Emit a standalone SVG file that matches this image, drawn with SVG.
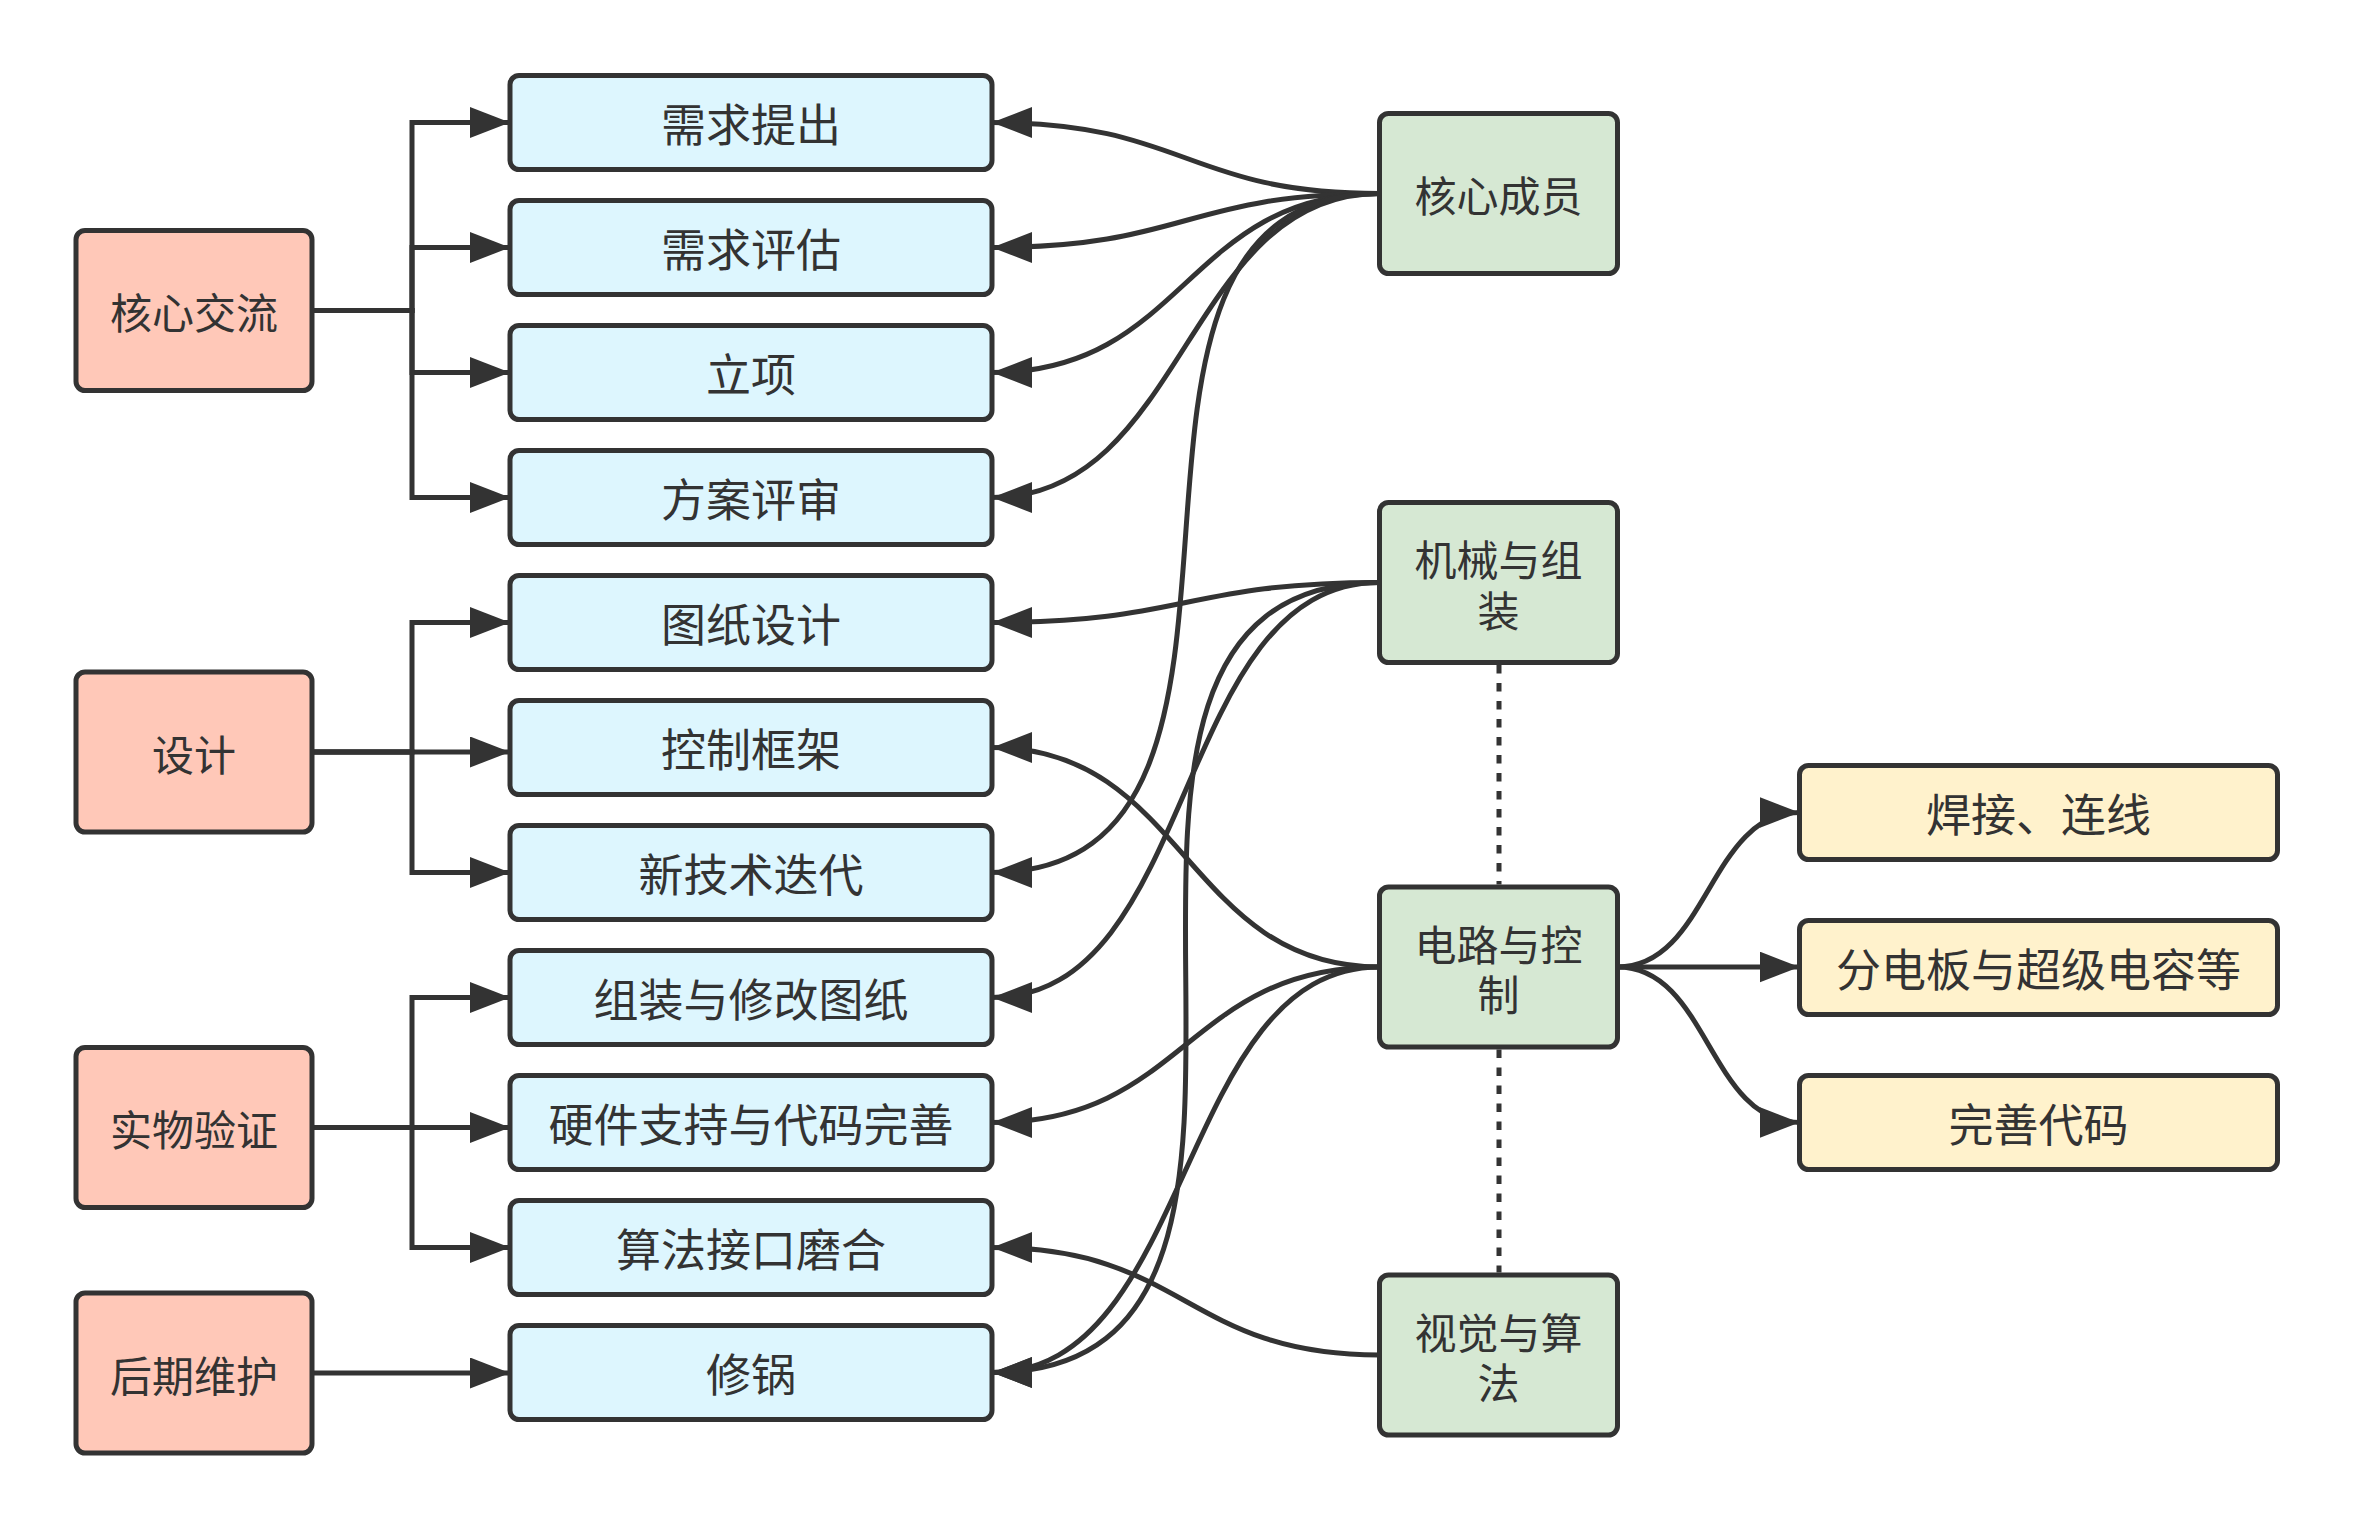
<svg xmlns="http://www.w3.org/2000/svg" width="2355" height="1529" viewBox="0 0 2355 1529">
  <style>
    .box { stroke: #333333; stroke-width: 5; }
    .red { fill: #ffc8b8; }
    .blue { fill: #ddf6fe; }
    .green { fill: #d6e8d3; }
    .yellow { fill: #fff2cc; }
    .label { font-family: "Noto Sans CJK SC", "Noto Sans", sans-serif; font-size: 45px; fill: #333333; text-anchor: middle; dominant-baseline: central; }
    .small { font-size: 42px; }
    .link { fill: none; stroke: #333333; stroke-width: 5; stroke-linejoin: miter; marker-end: url(#arrow); }
    .dash { fill: none; stroke: #333333; stroke-width: 5; stroke-dasharray: 8.5 9.5; }
  </style>
  <defs>
    <marker id="arrow" markerUnits="userSpaceOnUse" markerWidth="40" markerHeight="31" viewBox="0 0 40 31" refX="40" refY="15.5" orient="auto">
      <path d="M0,0 L40,15.5 L0,31 Z" fill="#333333"/>
    </marker>
  </defs>
  <rect width="2355" height="1529" fill="#ffffff"/>

  <!-- connectors -->
  <g id="connectors">
    <!-- 核心交流 elbows -->
    <path class="link" d="M314,310.5 H412 V122.5 H510"/>
    <path class="link" d="M314,310.5 H412 V247.5 H510"/>
    <path class="link" d="M314,310.5 H412 V372.5 H510"/>
    <path class="link" d="M314,310.5 H412 V497.5 H510"/>
    <!-- 设计 elbows -->
    <path class="link" d="M314,752 H412 V622.5 H510"/>
    <path class="link" d="M314,752 H510"/>
    <path class="link" d="M314,752 H412 V872.5 H510"/>
    <!-- 实物验证 elbows -->
    <path class="link" d="M314,1127.5 H412 V997.5 H510"/>
    <path class="link" d="M314,1127.5 H510"/>
    <path class="link" d="M314,1127.5 H412 V1247.5 H510"/>
    <!-- 后期维护 -->
    <path class="link" d="M314,1373 H510"/>

    <!-- 核心成员 curves -->
    <path class="link" d="M1379.5,193.5 C1185.75,193.5 1185.75,122.5 992,122.5"/>
    <path class="link" d="M1379.5,193.5 C1185.75,193.5 1185.75,247.5 992,247.5"/>
    <path class="link" d="M1379.5,193.5 C1185.75,193.5 1185.75,372.5 992,372.5"/>
    <path class="link" d="M1379.5,193.5 C1185.75,193.5 1185.75,497.5 992,497.5"/>
    <path class="link" d="M1379.5,193.5 C1040,193.5 1331.5,872.5 992,872.5"/>
    <!-- 机械与组装 curves -->
    <path class="link" d="M1379.5,582.5 C1185.75,582.5 1185.75,622.5 992,622.5"/>
    <path class="link" d="M1379.5,582.5 C1172,582.5 1199.5,997.5 992,997.5"/>
    <path class="link" d="M1379.5,582.5 C984.5,582.5 1387,1372.5 992,1372.5"/>
    <!-- 电路与控制 curves -->
    <path class="link" d="M1379.5,967 C1185.75,967 1185.75,747.5 992,747.5"/>
    <path class="link" d="M1379.5,967 C1185.75,967 1185.75,1122.5 992,1122.5"/>
    <path class="link" d="M1379.5,967 C1176.75,967 1194.75,1372.5 992,1372.5"/>
    <!-- 视觉与算法 curve -->
    <path class="link" d="M1379.5,1355 C1185.75,1355 1185.75,1247.5 992,1247.5"/>
    <!-- 电路与控制 to the right -->
    <path class="link" d="M1617.5,967 C1708.5,967 1708.5,812.5 1799.5,812.5"/>
    <path class="link" d="M1617.5,967 H1799.5"/>
    <path class="link" d="M1617.5,967 C1708.5,967 1708.5,1122.5 1799.5,1122.5"/>
    <!-- dotted links between the teams -->
    <path class="dash" d="M1499,665 V884.5"/>
    <path class="dash" d="M1499,1049.5 V1272.5"/>
  </g>

  <!-- stage nodes -->
  <g id="node-hexin-jiaoliu"><rect class="box red" x="76" y="230.5" width="236" height="160" rx="9"/><text class="label small" x="194" y="310.5">核心交流</text></g>
  <g id="node-sheji"><rect class="box red" x="76" y="672" width="236" height="160" rx="9"/><text class="label small" x="194" y="752">设计</text></g>
  <g id="node-shiwu-yanzheng"><rect class="box red" x="76" y="1047.5" width="236" height="160" rx="9"/><text class="label small" x="194" y="1127.5">实物验证</text></g>
  <g id="node-houqi-weihu"><rect class="box red" x="76" y="1293" width="236" height="160" rx="9"/><text class="label small" x="194" y="1373">后期维护</text></g>

  <!-- task nodes -->
  <g id="node-xuqiu-tichu"><rect class="box blue" x="510" y="75.5" width="482" height="94" rx="9"/><text class="label" x="751" y="122.5">需求提出</text></g>
  <g id="node-xuqiu-pinggu"><rect class="box blue" x="510" y="200.5" width="482" height="94" rx="9"/><text class="label" x="751" y="247.5">需求评估</text></g>
  <g id="node-lixiang"><rect class="box blue" x="510" y="325.5" width="482" height="94" rx="9"/><text class="label" x="751" y="372.5">立项</text></g>
  <g id="node-fangan-pingshen"><rect class="box blue" x="510" y="450.5" width="482" height="94" rx="9"/><text class="label" x="751" y="497.5">方案评审</text></g>
  <g id="node-tuzhi-sheji"><rect class="box blue" x="510" y="575.5" width="482" height="94" rx="9"/><text class="label" x="751" y="622.5">图纸设计</text></g>
  <g id="node-kongzhi-kuangjia"><rect class="box blue" x="510" y="700.5" width="482" height="94" rx="9"/><text class="label" x="751" y="747.5">控制框架</text></g>
  <g id="node-xinjishu-diedai"><rect class="box blue" x="510" y="825.5" width="482" height="94" rx="9"/><text class="label" x="751" y="872.5">新技术迭代</text></g>
  <g id="node-zuzhuang-xiugai"><rect class="box blue" x="510" y="950.5" width="482" height="94" rx="9"/><text class="label" x="751" y="997.5">组装与修改图纸</text></g>
  <g id="node-yingjian-zhichi"><rect class="box blue" x="510" y="1075.5" width="482" height="94" rx="9"/><text class="label" x="751" y="1122.5">硬件支持与代码完善</text></g>
  <g id="node-suanfa-jiekou"><rect class="box blue" x="510" y="1200.5" width="482" height="94" rx="9"/><text class="label" x="751" y="1247.5">算法接口磨合</text></g>
  <g id="node-xiuguo"><rect class="box blue" x="510" y="1325.5" width="482" height="94" rx="9"/><text class="label" x="751" y="1372.5">修锅</text></g>

  <!-- team nodes -->
  <g id="node-hexin-chengyuan"><rect class="box green" x="1379.5" y="113.5" width="238" height="160" rx="9"/><text class="label small" x="1498.5" y="193.5">核心成员</text></g>
  <g id="node-jixie"><rect class="box green" x="1379.5" y="502.5" width="238" height="160" rx="9"/><text class="label small" x="1498.5" y="557.5">机械与组<tspan x="1498.5" dy="50">装</tspan></text></g>
  <g id="node-dianlu"><rect class="box green" x="1379.5" y="887" width="238" height="160" rx="9"/><text class="label small" x="1498.5" y="942">电路与控<tspan x="1498.5" dy="50">制</tspan></text></g>
  <g id="node-shijue"><rect class="box green" x="1379.5" y="1275" width="238" height="160" rx="9"/><text class="label small" x="1498.5" y="1330">视觉与算<tspan x="1498.5" dy="50">法</tspan></text></g>

  <!-- circuit sub-tasks -->
  <g id="node-hanjie"><rect class="box yellow" x="1799.5" y="765.5" width="478" height="94" rx="9"/><text class="label" x="2038.5" y="812.5">焊接、连线</text></g>
  <g id="node-fendianban"><rect class="box yellow" x="1799.5" y="920.5" width="478" height="94" rx="9"/><text class="label" x="2038.5" y="967.5">分电板与超级电容等</text></g>
  <g id="node-wanshan-daima"><rect class="box yellow" x="1799.5" y="1075.5" width="478" height="94" rx="9"/><text class="label" x="2038.5" y="1122.5">完善代码</text></g>
</svg>
